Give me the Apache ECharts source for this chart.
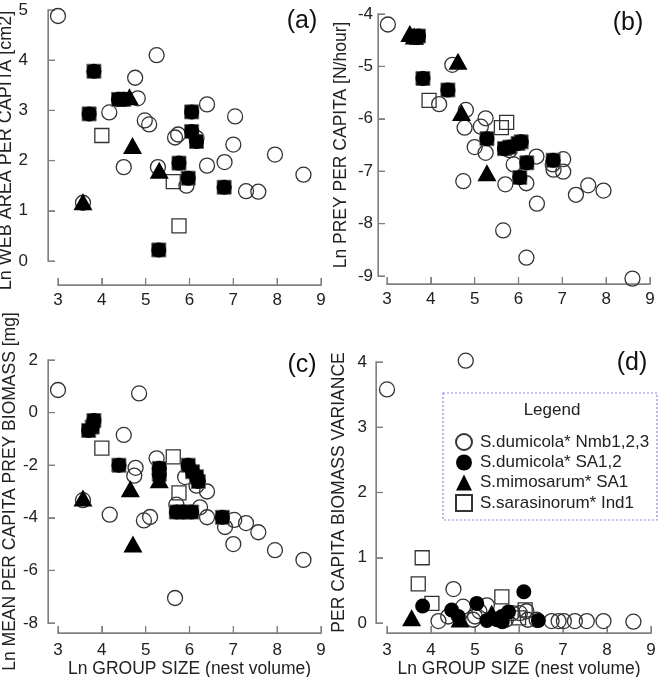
<!DOCTYPE html>
<html><head><meta charset="utf-8">
<script src="https://cdn.jsdelivr.net/npm/echarts@6/dist/echarts.min.js"></script>
<style>html,body{margin:0;padding:0;background:#fff}#c{width:660px;height:677px}</style>
</head><body><div id="c"></div>
<script>
// ---- data: [Ln group size, value] ----
const aNmb = [[3.0,4.88],[5.25,4.1],[4.76,3.65],[4.82,3.24],[4.17,2.96],[4.98,2.8],[5.08,2.72],[5.67,2.46],[5.74,2.52],[6.16,2.45],[6.4,3.12],[7.04,2.88],[7.0,2.32],[6.8,1.97],[6.4,1.9],[7.95,2.12],[8.6,1.72],[7.29,1.39],[7.57,1.38],[4.5,1.87],[5.28,1.87],[5.93,1.5],[3.57,1.16]];
const aSA  = [[3.82,3.78],[3.71,2.93],[4.38,3.22],[4.5,3.22],[6.05,2.97],[6.05,2.58],[6.16,2.38],[5.76,1.95],[5.97,1.65],[6.79,1.47],[5.3,0.22]];
const aMim = [[3.57,1.18],[4.63,3.27],[4.7,2.3],[5.31,1.81]];
const aSar = [[4.0,2.5],[5.63,1.58],[5.76,0.7]];

const bNmb = [[3.02,-4.2],[4.49,-4.97],[4.19,-5.72],[4.8,-5.83],[4.77,-6.17],[5.25,-5.99],[5.14,-6.15],[5.0,-6.54],[5.25,-6.65],[4.74,-7.19],[5.7,-7.25],[5.65,-8.13],[6.18,-8.65],[5.89,-6.87],[6.18,-7.23],[6.41,-6.72],[6.42,-7.62],[6.78,-6.87],[7.02,-6.77],[7.02,-7.01],[6.8,-6.97],[7.31,-7.45],[7.59,-7.27],[7.94,-7.37],[8.6,-9.05],[5.8,-6.6],[6.05,-6.45]];
const bSA  = [[3.67,-4.45],[3.72,-4.42],[3.82,-5.23],[4.39,-5.45],[5.28,-6.38],[5.68,-6.57],[5.8,-6.54],[5.99,-6.47],[6.06,-6.44],[6.19,-6.84],[6.03,-7.12],[6.79,-6.79]];
const bMim = [[3.52,-4.37],[3.62,-4.42],[4.62,-4.9],[4.7,-5.88],[5.28,-7.03]];
const bSar = [[3.96,-5.65],[5.61,-6.17],[5.73,-6.07]];

const cNmb = [[3.0,0.86],[4.85,0.73],[4.5,-0.85],[4.18,-3.88],[3.57,-3.33],[4.77,-2.1],[4.74,-2.4],[5.25,-1.74],[4.96,-4.1],[5.1,-3.97],[5.7,-3.5],[5.9,-2.45],[6.16,-2.78],[6.4,-3.0],[6.24,-3.6],[6.4,-3.98],[6.81,-4.35],[7.02,-4.08],[7.0,-5.0],[7.29,-4.2],[7.57,-4.55],[7.95,-5.23],[8.6,-5.6],[5.67,-7.05]];
const cSA  = [[3.7,-0.68],[3.78,-0.55],[3.82,-0.3],[4.39,-2.0],[5.31,-2.12],[5.31,-2.35],[5.97,-2.0],[6.07,-2.25],[6.16,-2.44],[6.2,-2.62],[5.7,-3.78],[5.86,-3.78],[6.05,-3.78],[6.75,-3.98]];
const cMim = [[3.57,-3.25],[4.65,-2.9],[5.31,-2.55],[4.71,-5.0]];
const cSar = [[4.0,-1.35],[5.63,-1.68],[5.76,-3.05]];

const dNmb = [[3.0,3.58],[4.79,4.02],[4.51,0.52],[4.17,0.03],[4.73,0.25],[4.39,0.1],[4.96,0.05],[5.27,0.27],[5.1,0.18],[5.0,0.1],[5.7,0.05],[5.85,0.15],[6.02,0.15],[6.17,0.18],[6.2,0.05],[6.4,0.05],[6.74,0.03],[6.9,0.03],[7.02,0.03],[7.27,0.03],[7.54,0.03],[7.92,0.03],[8.6,0.02]];
const dSA  = [[3.81,0.26],[4.47,0.2],[4.62,0.1],[5.04,0.3],[5.27,0.04],[5.5,0.05],[5.61,0.1],[5.76,0.17],[5.62,0.02],[6.11,0.48],[6.44,0.04]];
const dMim = [[3.56,0.08],[4.66,0.06],[5.38,0.15]];
const dSar = [[3.71,0.6],[3.8,1.0],[4.02,0.3],[5.61,0.4],[5.99,0.08],[6.14,0.2]];

const names = ['S.dumicola* Nmb1,2,3','S.dumicola* SA1,2','S.mimosarum* SA1','S.sarasinorum* Ind1'];
const xTicks = {min:3, max:9, interval:1};
const yTitles = ['Ln WEB AREA PER CAPITA [cm2]','Ln PREY PER CAPITA [N/hour]','Ln MEAN PER CAPITA PREY BIOMASS [mg]','PER CAPITA BIOMASS VARIANCE'];
const yRanges = [{min:0,max:5,interval:1},{min:-9,max:-4,interval:1},{min:-8,max:2,interval:2},{min:0,max:4,interval:1}];
const xTitle = 'Ln GROUP SIZE (nest volume)';

const FONT = 'Liberation Sans, Arial, sans-serif';
const AXIS_COLOR = '#808080';
const grids = [
  {left:58, top:10, width:263, height:251},
  {left:387, top:14, width:263, height:262},
  {left:58, top:360, width:263, height:263},
  {left:387, top:362, width:264, height:261}
].map(g => Object.assign(g, {containLabel:false, outerBoundsMode:'none'}));
const xOff = [24, 8, 10, 10];
const xMargin = [7, 7, 9, 9];
const yOff = [10, 9, 10, 11];
const yMargin = [20, 5, 10, 9];
const yNamePad = [[0,30,0,0],[0,0,0,0],[0,0,0,0],[0,0,0,0]];
const TICK_LEN = 7;
const mkLine = () => ({show:true, onZero:false, lineStyle:{color:AXIS_COLOR, width:1}});
const mkTick = () => ({show:true, inside:true, length:TICK_LEN, lineStyle:{color:AXIS_COLOR, width:1}});

const xAxes = grids.map((g,i)=>({
  gridIndex:i, type:'value', min:xTicks.min, max:xTicks.max, interval:xTicks.interval, offset:xOff[i],
  axisLine:mkLine(), axisTick:mkTick(), splitLine:{show:false},
  axisLabel:{margin:xMargin[i], fontSize:17, color:'#222', fontFamily:FONT},
  name: i>=2 ? xTitle : '', nameLocation:'middle', nameGap:22,
  nameTextStyle:{fontSize:17.5, color:'#222', fontFamily:FONT}
}));
const yAxes = grids.map((g,i)=>({
  gridIndex:i, type:'value', min:yRanges[i].min, max:yRanges[i].max, interval:yRanges[i].interval, offset:yOff[i],
  axisLine:mkLine(), axisTick:mkTick(), splitLine:{show:false},
  axisLabel:{margin:yMargin[i], fontSize:17, color:'#222', fontFamily:FONT},
  name: yTitles[i], nameLocation:'middle', nameGap:28,
  nameTextStyle:{fontSize:i===0 ? 18 : 17.5, color:'#222', fontFamily:FONT, padding:yNamePad[i]}
}));

const hollow = {color:'rgba(0,0,0,0)', borderColor:'#333', borderWidth:1.3, opacity:1};
const solid = {color:'#000', opacity:1};
const sets = [[aNmb,aSA,aMim,aSar],[bNmb,bSA,bMim,bSar],[cNmb,cSA,cMim,cSar],[dNmb,dSA,dMim,dSar]];
const series = [];
sets.forEach((s,i)=>{
  const base = {type:'scatter', xAxisIndex:i, yAxisIndex:i, clip:false, silent:true, emphasis:{disabled:true}};
  series.push(Object.assign({}, base, {name:names[0], data:s[0], symbol:'circle', symbolSize:15, itemStyle:hollow, z:2}));
  series.push(Object.assign({}, base, {name:names[3], data:s[3], symbol:'rect', symbolSize:14, itemStyle:hollow, z:3}));
  if (i < 3) {
    series.push(Object.assign({}, base, {name:'sa-square', data:s[1], symbol:'rect', symbolSize:14, itemStyle:{color:'#000', borderColor:'#666', borderWidth:1, opacity:1}, z:4}));
  }
  series.push(Object.assign({}, base, {name:names[1], data:s[1], symbol:'circle', symbolSize:15, itemStyle:solid, z:5}));
  series.push(Object.assign({}, base, {name:names[2], data:s[2], symbol:'triangle', symbolSize:[19,17], itemStyle:solid, z:6}));
});

const baseGraphic = [
  {type:'rect', shape:{x:443, y:393, width:214, height:127}, style:{fill:'none', stroke:'#8a8ae8', lineWidth:1.2, lineDash:[2,2]}, z:1},
  {type:'text', style:{text:'Legend', x:552, y:410, fontSize:17, fill:'#222', fontFamily:FONT, align:'center', verticalAlign:'middle'}},
  {type:'text', style:{text:'(a)', x:302, y:21, fontSize:25, fill:'#111', fontFamily:FONT, align:'center', verticalAlign:'middle'}},
  {type:'text', style:{text:'(b)', x:628, y:23, fontSize:25, fill:'#111', fontFamily:FONT, align:'center', verticalAlign:'middle'}},
  {type:'text', style:{text:'(c)', x:302, y:365, fontSize:25, fill:'#111', fontFamily:FONT, align:'center', verticalAlign:'middle'}},
  {type:'text', style:{text:'(d)', x:632, y:363, fontSize:25, fill:'#111', fontFamily:FONT, align:'center', verticalAlign:'middle'}}
];

const chart = echarts.init(document.getElementById('c'), null, {renderer:'canvas'});
chart.setOption({
  animation:false,
  grid: grids,
  xAxis: xAxes,
  yAxis: yAxes,
  series: series,
  legend: {
    data: names.map(n=>({name:n})),
    orient:'vertical', left:450, top:428, itemGap:3, itemWidth:16, itemHeight:16,
    textStyle:{fontSize:17, color:'#222', fontFamily:FONT, padding:[0,0,0,3]},
    selectedMode:false
  },
  graphic: baseGraphic
});

// Detached R-style axis lines and inside ticks as thin filled bars,
// positioned through the chart's own axis scales (fallback: grid layout).
const LW = 1.3;
const bar = (x, y, w, h) => ({type:'rect', silent:true, z:1, shape:{x:x, y:y, width:w, height:h}, style:{fill:AXIS_COLOR}});
const axisMarks = [];
grids.forEach((g,i)=>{
  const yr = yRanges[i];
  const toPx = (xv, yv) => {
    let p = null;
    try { p = chart.convertToPixel({gridIndex:i}, [xv, yv]); } catch (e) { p = null; }
    if (!p || !isFinite(p[0]) || !isFinite(p[1])) {
      p = [g.left + (xv - xTicks.min) / (xTicks.max - xTicks.min) * g.width,
           g.top + (yr.max - yv) / (yr.max - yr.min) * g.height];
    }
    return p;
  };
  const px = v => toPx(v, yr.min)[0];
  const py = v => toPx(xTicks.min, v)[1];
  const xLineY = py(yr.min) + xOff[i];
  axisMarks.push(bar(px(xTicks.min) - LW/2, xLineY - LW/2, px(xTicks.max) - px(xTicks.min) + LW, LW));
  for (let v = xTicks.min; v <= xTicks.max + 1e-9; v += xTicks.interval) {
    axisMarks.push(bar(px(v) - LW/2, xLineY - TICK_LEN, LW, TICK_LEN));
  }
  const yLineX = px(xTicks.min) - yOff[i];
  const yTop = py(yr.max), yBot = py(yr.min);
  axisMarks.push(bar(yLineX - LW/2, yTop - LW/2, LW, yBot - yTop + LW));
  for (let v = yr.min; v <= yr.max + 1e-9; v += yr.interval) {
    axisMarks.push(bar(yLineX, py(v) - LW/2, TICK_LEN, LW));
  }
});
chart.setOption({graphic: baseGraphic.concat(axisMarks)});
</script></body></html>
